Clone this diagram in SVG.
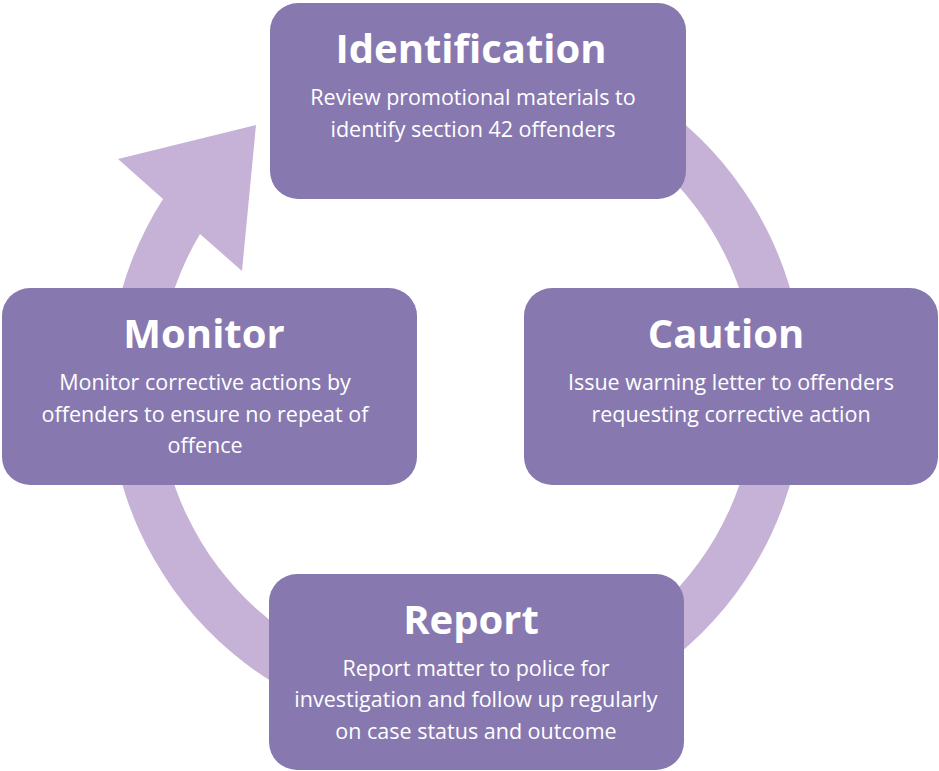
<svg xmlns="http://www.w3.org/2000/svg" width="939" height="771" viewBox="0 0 939 771">
<style>
.box{fill:#8779B0}
.ring{fill:#C6B2D6}
.t{font-family:"Open Sans","Noto Sans",sans-serif;fill:#FFFFFF;text-anchor:middle}
.h{font-size:40px;font-weight:700}
.b{font-size:21.5px;font-weight:400}
</style>
<rect width="939" height="771" fill="#FFFFFF"/>
<g id="connectors">
<path class="ring" d="M 631,85.6 A 348 348 0 1 1 163,199 L 118,159 L 256,125 L 242,271 L 200,234 A 299 299 0 1 0 606.5,128.1 Z"/>
</g>
<g id="identification">
<rect class="box" x="270" y="3" width="416" height="196" rx="28"/>
<text class="t h" x="471" y="63">Identification</text>
<text class="t b" x="473" y="105">Review promotional materials to</text>
<text class="t b" x="473" y="137">identify section 42 offenders</text>
</g>
<g id="caution">
<rect class="box" x="524" y="288" width="414" height="197" rx="28"/>
<text class="t h" x="726" y="348">Caution</text>
<text class="t b" x="731" y="390">Issue warning letter to offenders</text>
<text class="t b" x="731" y="422">requesting corrective action</text>
</g>
<g id="report">
<rect class="box" x="269" y="574" width="415" height="196" rx="28"/>
<text class="t h" x="471" y="634">Report</text>
<text class="t b" x="476" y="676">Report matter to police for</text>
<text class="t b" x="476" y="707">investigation and follow up regularly</text>
<text class="t b" x="476" y="739">on case status and outcome</text>
</g>
<g id="monitor">
<rect class="box" x="2" y="288" width="415" height="197" rx="28"/>
<text class="t h" x="204" y="348">Monitor</text>
<text class="t b" x="205" y="390">Monitor corrective actions by</text>
<text class="t b" x="205" y="422">offenders to ensure no repeat of</text>
<text class="t b" x="205" y="453">offence</text>
</g>
</svg>
